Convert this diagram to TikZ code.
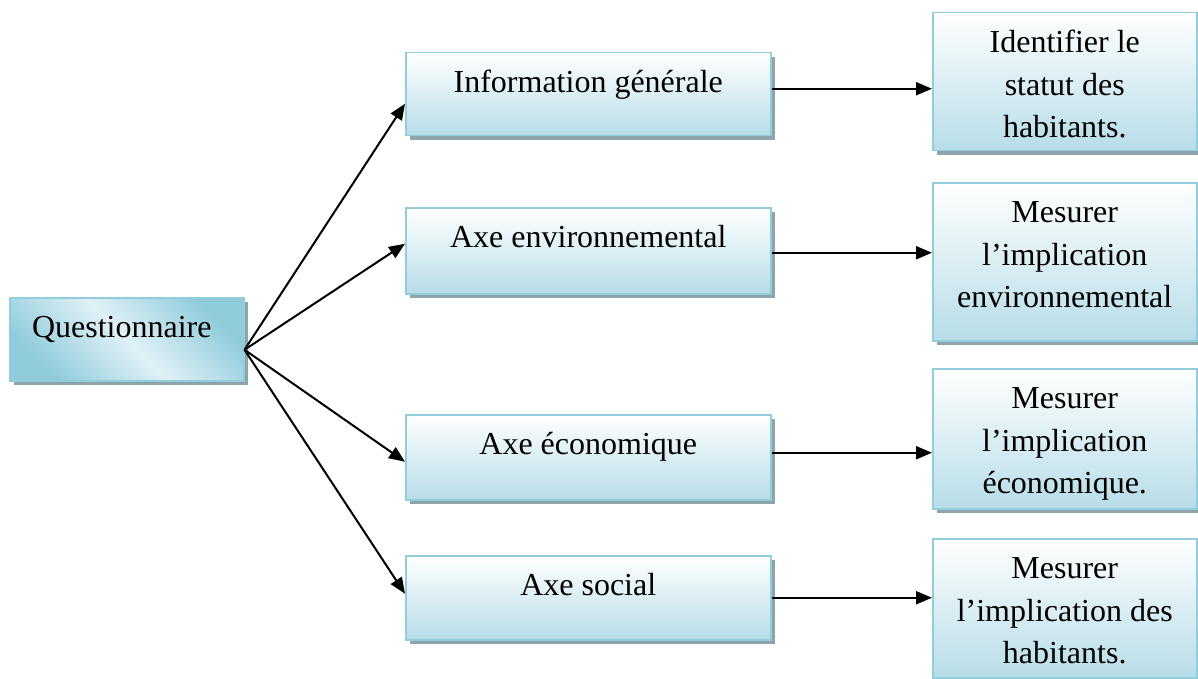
\documentclass[tikz,border=0pt]{standalone}
\usepackage{fontspec}
\setmainfont{Liberation Serif}
\usetikzlibrary{shadows,arrows.meta}
\definecolor{bord}{RGB}{146,205,220}
\definecolor{shad}{RGB}{141,164,172}
\definecolor{lowb}{RGB}{183,221,232}
\definecolor{qdark}{RGB}{143,203,219}
\definecolor{qlight}{RGB}{224,241,246}
\begin{document}
\begin{tikzpicture}[x=1pt,y=-1pt,
  box/.style={draw=bord, line width=1.5pt, rectangle, inner xsep=0pt, inner ysep=0pt,
    text height=40pt, align=center, anchor=north west,
    font=\fontsize{32}{42.5}\selectfont,
    drop shadow={shadow xshift=4pt, shadow yshift=-4pt, fill=shad, opacity=1}},
  three/.style={text height=125pt},
  grad/.style={top color=white, bottom color=lowb},
  qgrad/.style={left color=qdark, right color=qdark, middle color=qlight, shading angle=135},
  arr/.style={line width=2pt, -{Triangle[length=16pt,width=13pt]}}]
\useasboundingbox (0,0) rectangle (1198,679);
% left
\node[box, qgrad, minimum width=234pt, text depth=43pt] (q) at (9,297) {Questionnaire\hspace*{10pt}};
% middle
\node[box, grad, minimum width=365pt, text depth=43pt] (m1) at (405,52) {Information générale};
\node[box, grad, minimum width=365pt, text depth=46pt] (m2) at (405,207) {Axe environnemental};
\node[box, grad, minimum width=365pt, text depth=45pt] (m3) at (405,414) {Axe économique};
\node[box, grad, minimum width=365pt, text depth=44pt] (m4) at (405,555) {Axe social};
% right
\node[box, grad, three, minimum width=264pt, text depth=13pt] (r1) at (932,12) {Identifier le\\statut des\\habitants.};
\node[box, grad, three, minimum width=264pt, text depth=33pt] (r2) at (932,182) {Mesurer\\l’implication\\environnemental};
\node[box, grad, three, minimum width=264pt, text depth=15pt] (r3) at (932,368) {Mesurer\\l’implication\\économique.};
\node[box, grad, three, minimum width=264pt, text depth=14pt] (r4) at (932,538) {Mesurer\\l’implication des\\habitants.};
% fan arrows
\coordinate (o) at ([yshift=-10.5pt]q.east);
\draw[arr] (o) -- ([yshift=-9.5pt]m1.west);
\draw[arr] (o) -- ([yshift=7pt]m2.west);
\draw[arr] (o) -- ([yshift=-4.5pt]m3.west);
\draw[arr] (o) -- ([yshift=4pt]m4.west);
% horizontal arrows
\coordinate (h1) at ([yshift=5.5pt]m1.east);
\coordinate (h2) at ([yshift=-2pt]m2.east);
\coordinate (h3) at ([yshift=4.5pt]m3.east);
\coordinate (h4) at (m4.east);
\draw[arr] (h1) -- (h1 -| r1.west);
\draw[arr] (h2) -- (h2 -| r2.west);
\draw[arr] (h3) -- (h3 -| r3.west);
\draw[arr] (h4) -- (h4 -| r4.west);
\end{tikzpicture}
\end{document}
